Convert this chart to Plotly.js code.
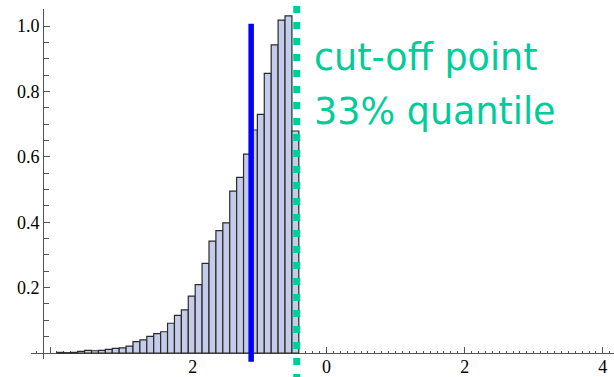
<!DOCTYPE html>
<html><head><meta charset="utf-8">
<script src="https://cdn.plot.ly/plotly-3.0.1.min.js"></script>
<style>html,body{margin:0;padding:0;background:#fff;}#chart{width:614px;height:377px;}</style>
</head><body><div id="chart"></div>
<script>
const binCenters = [-3.85,-3.75,-3.65,-3.55,-3.45,-3.35,-3.25,-3.15,-3.05,-2.95,
  -2.85,-2.75,-2.65,-2.55,-2.45,-2.35,-2.25,-2.15,-2.05,-1.95,
  -1.85,-1.75,-1.65,-1.55,-1.45,-1.35,-1.25,-1.15,-1.05,-0.95,
  -0.85,-0.75,-0.65,-0.55,-0.45];
const binHeights = [0.002,0.001,0.002,0.005,0.008,0.007,0.008,0.011,0.014,0.016,
  0.021,0.035,0.040,0.051,0.059,0.065,0.091,0.115,0.132,0.174,
  0.209,0.274,0.342,0.374,0.398,0.495,0.537,0.608,0.682,0.730,
  0.855,0.942,1.018,1.031,0.679];
const binWidth = 0.1;
const meanLineX = -1.09;
const meanLineY = [-0.027, 1.007];
const cutoffX = -0.43;
const cutoffY = [1.061, -0.09];
const labelLines = ["cut-off point", "33% quantile"];
const labelY = [0.903, 0.738];
const labelX = -0.21;
const xTickVals = [-4, -2, 0, 2, 4];
const xTickText = ["", "\u00a0\u00a02", "0", "2", "4"];
const yTickVals = [0.2, 0.4, 0.6, 0.8, 1.0];
const yTickText = ["0.2", "0.4", "0.6", "0.8", "1.0"];

const xRange = [-4.276, 4.161];
const yRange = [-0.0183, 1.052];
const toPaperY = v => (v - yRange[0]) / (yRange[1] - yRange[0]);
const toPaperX = v => (v - xRange[0]) / (xRange[1] - xRange[0]);

const green = 'rgb(0,204,153)';
const axisColor = '#555';
const tickFont = {family: "Liberation Serif", size: 18, color: '#000'};

const traces = [{
  type: 'bar',
  x: binCenters,
  y: binHeights,
  width: binWidth,
  marker: {color: 'rgb(197,204,234)', line: {color: '#2a2a2a', width: 1.2}},
  hoverinfo: 'skip'
}];

const layout = {
  width: 614, height: 377,
  margin: {l: 31, r: 0, t: 9, b: 18, pad: 0},
  paper_bgcolor: '#fff', plot_bgcolor: 'rgba(0,0,0,0)',
  showlegend: false,
  bargap: 0,
  xaxis: {
    range: xRange, anchor: 'free', position: toPaperY(0),
    showgrid: false, zeroline: false, showline: true, linecolor: axisColor, linewidth: 1,
    ticks: 'inside', ticklen: 6, tickcolor: axisColor, tickwidth: 1,
    tickvals: xTickVals, ticktext: xTickText, tickfont: tickFont, ticklabelstandoff: -3,
    minor: {dtick: 0.1, tick0: 0, ticks: 'inside', ticklen: 2.5, tickcolor: axisColor, tickwidth: 1, showgrid: false},
    layer: 'below traces', fixedrange: true
  },
  yaxis: {
    range: yRange, anchor: 'free', position: toPaperX(-4.1),
    showgrid: false, zeroline: false, showline: true, linecolor: axisColor, linewidth: 1,
    ticks: 'inside', ticklen: 6, tickcolor: axisColor, tickwidth: 1,
    tickvals: yTickVals, ticktext: yTickText, tickfont: tickFont,
    minor: {dtick: 0.05, tick0: 0, ticks: 'inside', ticklen: 4.5, tickcolor: axisColor, tickwidth: 1, showgrid: false},
    layer: 'below traces', fixedrange: true
  },
  shapes: [
    {type: 'line', xref: 'x', yref: 'paper', x0: meanLineX, x1: meanLineX,
     y0: toPaperY(meanLineY[0]), y1: toPaperY(meanLineY[1]),
     line: {color: '#0000ff', width: 5.5}},
    {type: 'line', xref: 'x', yref: 'paper', x0: cutoffX, x1: cutoffX,
     y0: toPaperY(cutoffY[0]), y1: toPaperY(cutoffY[1]),
     line: {color: green, width: 7, dash: '7px,9px'}}
  ],
  annotations: labelLines.map((t, i) => ({
    text: t, x: labelX, y: labelY[i], xref: 'x', yref: 'y',
    xanchor: 'left', yanchor: 'middle', showarrow: false,
    font: {family: 'DejaVu Sans', size: 36.5, color: green}
  }))
};

Plotly.newPlot('chart', traces, layout, {displayModeBar: false, staticPlot: true});
</script></body></html>
